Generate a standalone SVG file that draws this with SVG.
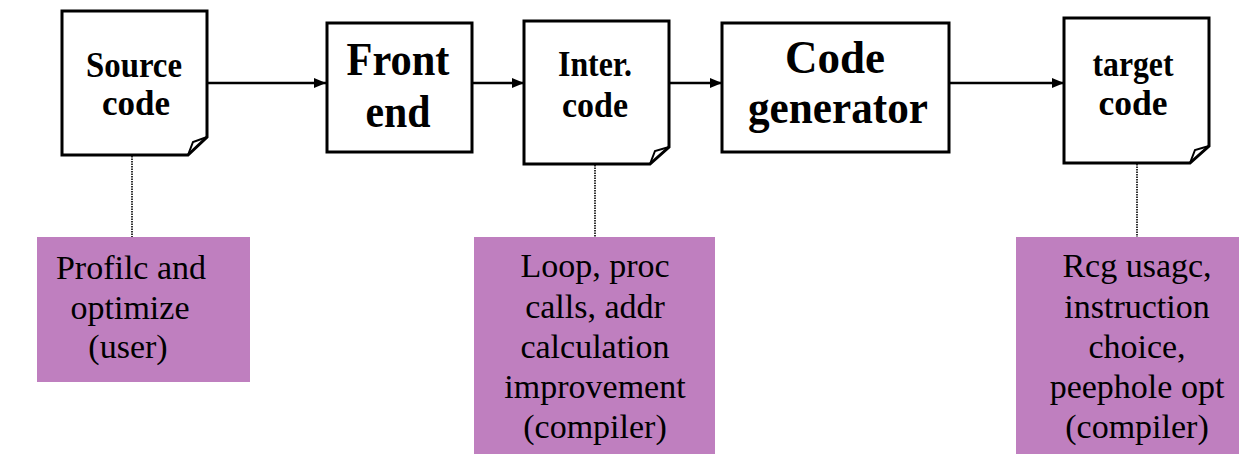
<svg xmlns="http://www.w3.org/2000/svg" width="1252" height="464" viewBox="0 0 1252 464">
<defs>
<style>
.box{fill:#fff;stroke:#000;stroke-width:3;stroke-linejoin:miter}
.fold{fill:none;stroke:#000;stroke-width:2}
.bt{font-family:'Liberation Serif','Tinos','DejaVu Serif',serif;font-weight:bold;text-anchor:middle;fill:#000}
.s{font-size:36px}
.l{font-size:46px}
.note{fill:#bf7fbf}
.nt{font-family:'Liberation Serif','Tinos','DejaVu Serif',serif;font-size:34px;text-anchor:middle;fill:#000}
.arr{stroke:#000;stroke-width:2.5;fill:none;marker-end:url(#ah)}
.dot{stroke:#333;stroke-width:2;stroke-dasharray:1.5 1;fill:none}
</style>
<marker id="ah" viewBox="0 0 12 10" refX="12" refY="5" markerWidth="12" markerHeight="10" markerUnits="userSpaceOnUse" orient="auto">
<path d="M0,0 L12,5 L0,10 Z" fill="#000"/>
</marker>
</defs>
<rect width="1252" height="464" fill="#fff"/>
<g id="connectors">
<line class="arr" x1="207" y1="83" x2="326" y2="83"/>
<line class="arr" x1="472" y1="83" x2="524" y2="83"/>
<line class="arr" x1="669" y1="83" x2="722" y2="83"/>
<line class="arr" x1="949" y1="83" x2="1064" y2="83"/>
<line class="dot" x1="132" y1="156" x2="132" y2="237"/>
<line class="dot" x1="595" y1="165" x2="595" y2="237"/>
<line class="dot" x1="1137" y1="164" x2="1137" y2="237"/>
</g>
<g id="source">
<path class="box" d="M62,11 H207 V137 L188,155 H62 Z"/>
<path class="fold" d="M188,155 L193,142 L207,137"/>
<text class="bt s" x="134" y="77" textLength="96" lengthAdjust="spacingAndGlyphs">Source</text>
<text class="bt s" x="136" y="115" textLength="68" lengthAdjust="spacingAndGlyphs">code</text>
</g>
<g id="frontend">
<rect class="box" x="327" y="23" width="145" height="129"/>
<text class="bt l" x="398" y="75" textLength="103" lengthAdjust="spacingAndGlyphs">Front</text>
<text class="bt l" x="398" y="127" textLength="65" lengthAdjust="spacingAndGlyphs">end</text>
</g>
<g id="inter">
<path class="box" d="M524,21 H669 V147 L650,164 H524 Z"/>
<path class="fold" d="M650,164 L655,151 L669,147"/>
<text class="bt s" x="595" y="76" textLength="74" lengthAdjust="spacingAndGlyphs">Inter.</text>
<text class="bt s" x="595" y="117" textLength="66" lengthAdjust="spacingAndGlyphs">code</text>
</g>
<g id="codegen">
<rect class="box" x="722" y="23" width="227" height="129"/>
<text class="bt l" x="835" y="73" textLength="100" lengthAdjust="spacingAndGlyphs">Code</text>
<text class="bt l" x="838" y="123" textLength="180" lengthAdjust="spacingAndGlyphs">generator</text>
</g>
<g id="target">
<path class="box" d="M1064,18 H1209 V146 L1190,163 H1064 Z"/>
<path class="fold" d="M1190,163 L1195,150 L1209,146"/>
<text class="bt s" x="1133" y="76" textLength="81" lengthAdjust="spacingAndGlyphs">target</text>
<text class="bt s" x="1133" y="115" textLength="69" lengthAdjust="spacingAndGlyphs">code</text>
</g>
<g id="note1">
<rect class="note" x="37" y="237" width="213" height="145"/>
<text class="nt" x="131" y="279">Profilc and</text>
<text class="nt" x="130" y="319">optimize</text>
<text class="nt" x="128" y="358">(user)</text>
</g>
<g id="note2">
<rect class="note" x="474" y="237" width="241" height="217"/>
<text class="nt" x="595" y="277">Loop, proc</text>
<text class="nt" x="595" y="318">calls, addr</text>
<text class="nt" x="595" y="358">calculation</text>
<text class="nt" x="595" y="398">improvement</text>
<text class="nt" x="595" y="438">(compiler)</text>
</g>
<g id="note3">
<rect class="note" x="1016" y="237" width="223" height="217"/>
<text class="nt" x="1137" y="277">Rcg usagc,</text>
<text class="nt" x="1137" y="318">instruction</text>
<text class="nt" x="1137" y="358">choice,</text>
<text class="nt" x="1137" y="398">peephole opt</text>
<text class="nt" x="1137" y="438">(compiler)</text>
</g>
</svg>
